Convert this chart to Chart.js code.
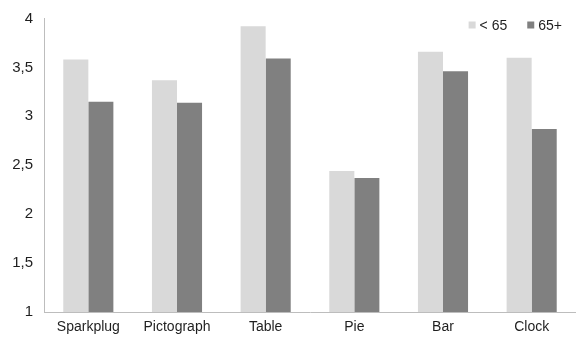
<!DOCTYPE html>
<html>
<head>
<meta charset="utf-8">
<script src="https://cdn.jsdelivr.net/npm/chart.js@4/dist/chart.umd.min.js"></script>
<style>
  html, body { margin: 0; padding: 0; background: #ffffff; }
  #wrap { width: 576px; height: 338px; position: relative; }
</style>
</head>
<body>
<div id="wrap"><canvas id="c" width="576" height="338"></canvas></div>
<script>
// Chart data
const categories = ['Sparkplug', 'Pictograph', 'Table', 'Pie', 'Bar', 'Clock'];
const seriesNames = ['< 65', '65+'];
const under65 = [3.58, 3.37, 3.92, 2.44, 3.66, 3.60];
const over65 = [3.15, 3.14, 3.59, 2.37, 3.46, 2.87];
const yTickLabels = ['1', '1,5', '2', '2,5', '3', '3,5', '4'];

const FONT = '"Liberation Sans", Arial, sans-serif';
const TEXT = '#1f1f1f';
const AXIS = '#bdbdbd';

// Small legend drawn inside the plot area, top right
const cornerLegend = {
  id: 'cornerLegend',
  afterDraw(chart) {
    const ctx = chart.ctx;
    const box = 7;
    const gap = 4;
    const spacing = 20;
    const y = 25;
    ctx.save();
    ctx.font = '14px ' + FONT;
    ctx.textBaseline = 'middle';
    ctx.textAlign = 'left';
    const items = chart.data.datasets.map(ds => ({
      text: ds.label,
      color: ds.backgroundColor,
      w: box + gap + ctx.measureText(ds.label).width
    }));
    let total = items.reduce((s, it) => s + it.w, 0) + spacing * (items.length - 1);
    let x = 562 - total;
    items.forEach(it => {
      ctx.fillStyle = it.color;
      ctx.fillRect(x, y - box / 2, box, box);
      ctx.fillStyle = TEXT;
      ctx.fillText(it.text, x + box + gap, y + 1);
      x += it.w + spacing;
    });
    ctx.restore();
  }
};

new Chart(document.getElementById('c'), {
  type: 'bar',
  data: {
    labels: categories,
    datasets: [
      { label: seriesNames[0], data: under65, backgroundColor: '#d9d9d9' },
      { label: seriesNames[1], data: over65, backgroundColor: '#808080' }
    ]
  },
  options: {
    responsive: false,
    animation: false,
    events: [],
    layout: { padding: { top: 18.5, right: -4, bottom: 0, left: 0 } },
    datasets: {
      bar: { categoryPercentage: 0.565, barPercentage: 1.0, borderWidth: 0 }
    },
    plugins: {
      legend: { display: false },
      tooltip: { enabled: false }
    },
    scales: {
      x: {
        grid: { display: false, drawTicks: false },
        border: { display: true, color: AXIS, width: 1 },
        ticks: { color: TEXT, font: { family: FONT, size: 14 }, padding: 7, maxRotation: 0 },
        afterFit(scale) { scale.height = 26; }
      },
      y: {
        min: 1,
        max: 4,
        // hidden tick marks still reserve the gap between labels and the axis line
        grid: { display: false, drawTicks: true, tickLength: 11 },
        border: { display: true, color: AXIS, width: 1 },
        ticks: {
          stepSize: 0.5,
          color: TEXT,
          font: { family: FONT, size: 15 },
          padding: 0,
          callback: (v, i) => yTickLabels[i]
        },
        afterFit(scale) { scale.width = 44; }
      }
    }
  },
  plugins: [cornerLegend]
});
</script>
</body>
</html>
